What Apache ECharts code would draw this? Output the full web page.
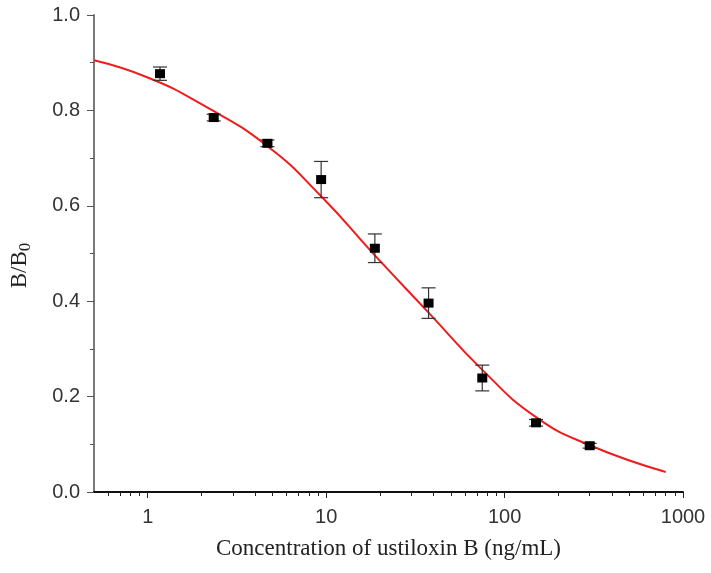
<!DOCTYPE html>
<html>
<head>
<meta charset="utf-8">
<script src="https://cdn.jsdelivr.net/npm/echarts@6/dist/echarts.min.js"></script>
<style>
  html, body { margin: 0; padding: 0; background: #ffffff; }
  #chart { width: 711px; height: 573px; }
</style>
</head>
<body>
<div id="chart"></div>
<script>
// Measured points (concentration in ng/mL, B/B0)
const concentrations = [1.171875, 2.34375, 4.6875, 9.375, 18.75, 37.5, 75, 150, 300];
const ratioMeans = [0.877, 0.785, 0.731, 0.655, 0.511, 0.396, 0.239, 0.145, 0.097];
const ratioErrors = [0.014, 0.007, 0.007, 0.038, 0.030, 0.032, 0.027, 0.007, 0.005];

// Fitted curve
const fitX = [0.5, 1, 2, 4.69, 9.375, 18.75, 37.5, 75, 150, 300, 800];
const fitY = [0.905, 0.869, 0.813, 0.725, 0.620, 0.496, 0.376, 0.256, 0.157, 0.098, 0.042];

// Axis ticks
const xMajorTicks = [1, 10, 100, 1000];
const xMinorTicks = [0.6, 0.7, 0.8, 0.9, 2, 3, 4, 5, 6, 7, 8, 9, 20, 30, 40, 50, 60, 70, 80, 90, 200, 300, 400, 500, 600, 700, 800, 900];

const xTitle = 'Concentration of ustiloxin B (ng/mL)';

const curveData = fitX.map((x, i) => [x, fitY[i]]);
const pointData = concentrations.map((x, i) => [x, ratioMeans[i]]);
const errData = concentrations.map((x, i) => [x, ratioMeans[i] - ratioErrors[i], ratioMeans[i] + ratioErrors[i]]);

const chart = echarts.init(document.getElementById('chart'), null, { renderer: 'canvas' });

const baseX = { type: 'log', logBase: 10, min: 0.5, max: 1000, gridIndex: 0, position: 'bottom', splitLine: { show: false } };

chart.setOption({
  animation: false,
  backgroundColor: '#ffffff',
  grid: { left: 93, right: 28, top: 15, bottom: 81 },
  xAxis: [
    Object.assign({}, baseX, {
      name: xTitle,
      nameLocation: 'middle',
      nameGap: 45,
      nameTextStyle: { fontFamily: '"Liberation Serif", "Times New Roman", serif', fontSize: 23, color: '#222' },
      axisLine: { show: true, lineStyle: { color: '#111', width: 2 } },
      axisTick: { show: true, inside: false, length: 6, customValues: xMajorTicks, lineStyle: { color: '#222', width: 1 } },
      axisLabel: { show: true, customValues: xMajorTicks, fontFamily: '"Liberation Sans", Arial, sans-serif', fontSize: 20, color: '#333', margin: 15, formatter: v => String(Math.round(v)) }
    }),
    Object.assign({}, baseX, {
      axisLine: { show: false },
      axisTick: { show: true, inside: false, length: 4, customValues: xMinorTicks, lineStyle: { color: '#222', width: 1 } },
      axisLabel: { show: false }
    })
  ],
  yAxis: {
    type: 'value',
    min: 0, max: 1, interval: 0.2,
    name: '{n|B/B}{s|0}',
    nameLocation: 'middle',
    nameGap: 60,
    nameRotate: 90,
    nameTextStyle: {
      padding: [0, 24, 0, 0],
      rich: {
        n: { fontFamily: '"Liberation Serif", "Times New Roman", serif', fontSize: 23, color: '#222' },
        s: { fontFamily: '"Liberation Serif", "Times New Roman", serif', fontSize: 17, color: '#222', padding: [12, 0, 0, 0] }
      }
    },
    splitLine: { show: false },
    axisLine: { show: true, lineStyle: { color: '#7a7a7a', width: 2 } },
    axisTick: { show: true, inside: false, length: 7, lineStyle: { color: '#555', width: 1 } },
    minorTick: { show: true, splitNumber: 2, length: 4, lineStyle: { color: '#555', width: 1 } },
    axisLabel: { fontFamily: '"Liberation Sans", Arial, sans-serif', fontSize: 20, color: '#333', margin: 14, formatter: v => v.toFixed(1) }
  },
  series: [
    {
      type: 'line',
      data: curveData,
      smooth: 0.5,
      showSymbol: false,
      symbol: 'none',
      lineStyle: { color: '#f01c1c', width: 2 },
      z: 2
    },
    {
      type: 'custom',
      data: errData,
      encode: { x: 0, y: [1, 2] },
      renderItem: function (params, api) {
        const x = api.value(0);
        const lo = api.coord([x, api.value(1)]);
        const hi = api.coord([x, api.value(2)]);
        const hw = 7;
        const st = { stroke: '#333', lineWidth: 1.2 };
        return {
          type: 'group',
          children: [
            { type: 'line', shape: { x1: lo[0], y1: lo[1], x2: hi[0], y2: hi[1] }, style: st },
            { type: 'line', shape: { x1: hi[0] - hw, y1: hi[1], x2: hi[0] + hw, y2: hi[1] }, style: st },
            { type: 'line', shape: { x1: lo[0] - hw, y1: lo[1], x2: lo[0] + hw, y2: lo[1] }, style: st }
          ]
        };
      },
      z: 3
    },
    {
      type: 'scatter',
      data: pointData,
      symbol: 'rect',
      symbolSize: [10, 9],
      itemStyle: { color: '#000', opacity: 1 },
      z: 4
    }
  ]
});
</script>
</body>
</html>
